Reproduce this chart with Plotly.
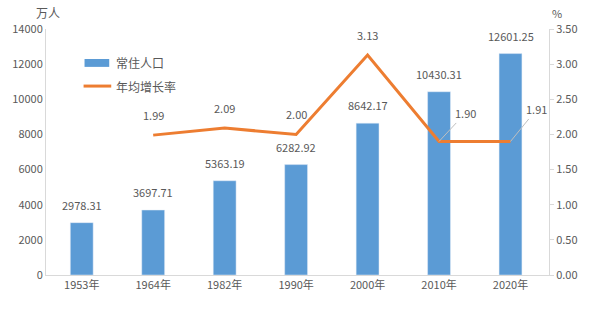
import plotly.graph_objects as go

years = ["1953年", "1964年", "1982年", "1990年", "2000年", "2010年", "2020年"]
population = [2978.31, 3697.71, 5363.19, 6282.92, 8642.17, 10430.31, 12601.25]
growth_years = ["1964年", "1982年", "1990年", "2000年", "2010年", "2020年"]
growth = [1.99, 2.09, 2.00, 3.13, 1.90, 1.91]
growth_plot = [1.99, 2.09, 2.00, 3.13, 1.90, 1.90]

FONT = "Noto Sans CJK SC, Liberation Sans, sans-serif"
GRAY = "#595959"
AX = "#D9D9D9"
BLUE = "#5B9BD5"
ORANGE = "#ED7D31"

fig = go.Figure()
fig.add_trace(go.Bar(x=years, y=population, name="常住人口", marker_color=BLUE,
                     width=0.32, yaxis="y"))
fig.add_trace(go.Scatter(x=growth_years, y=growth_plot, name="年均增长率", mode="lines",
                         line=dict(color=ORANGE, width=3), yaxis="y2"))

ann = []
for x, v in zip(years, population):
    ann.append(dict(x=x, y=v, yref="y", text=f"{v:.2f}", showarrow=False,
                    yanchor="bottom", yshift=8, font=dict(size=11, color=GRAY, family=FONT)))
for x, v, vp in zip(growth_years, growth, growth_plot):
    if x in ("2010年", "2020年"):
        ay = -28 if x == "2010年" else -32
        ann.append(dict(x=x, y=vp, yref="y2", text=f"{v:.2f}", showarrow=True,
                        arrowhead=0, arrowwidth=1, arrowcolor="#BFBFBF",
                        ax=26, ay=ay, xanchor="center",
                        font=dict(size=11, color=GRAY, family=FONT)))
    else:
        ann.append(dict(x=x, y=vp, yref="y2", text=f"{v:.2f}", showarrow=False,
                        yanchor="bottom", yshift=10, font=dict(size=11, color=GRAY, family=FONT)))
ann.append(dict(x=-0.024, y=1.069, xref="paper", yref="paper", text="万人", showarrow=False,
                xanchor="left", yanchor="middle", font=dict(size=12, color=GRAY, family=FONT)))
ann.append(dict(x=1.002, y=1.065, xref="paper", yref="paper", text="%", showarrow=False,
                xanchor="left", yanchor="middle", font=dict(size=11, color=GRAY, family=FONT)))
# manual legend
ann.append(dict(x=0.1356, y=0.862, xref="paper", yref="paper", text="常住人口", showarrow=False,
                xanchor="left", yanchor="middle", font=dict(size=12, color=GRAY, family=FONT)))
ann.append(dict(x=0.1356, y=0.768, xref="paper", yref="paper", text="年均增长率", showarrow=False,
                xanchor="left", yanchor="middle", font=dict(size=12, color=GRAY, family=FONT)))
shapes = [
    dict(type="rect", xref="paper", yref="paper", x0=0.0766, x1=0.1257, y0=0.846, y1=0.878,
         fillcolor=BLUE, line=dict(width=0)),
    dict(type="line", xref="paper", yref="paper", x0=0.0747, x1=0.1297, y0=0.768, y1=0.768,
         line=dict(color=ORANGE, width=3)),
]

fig.update_layout(
    width=590, height=325,
    margin=dict(l=44, r=37, t=29, b=50),
    plot_bgcolor="white", paper_bgcolor="white",
    font=dict(family=FONT, size=11, color=GRAY),
    showlegend=False,
    xaxis=dict(type="category", showline=True, linecolor=AX, linewidth=1, ticks="",
               tickfont=dict(size=11, color=GRAY), showgrid=False),
    yaxis=dict(range=[0, 14000], dtick=2000, tickformat="d", showline=True, linecolor=AX,
               linewidth=1, showgrid=False, zeroline=False, ticks="",
               tickfont=dict(size=11, color=GRAY)),
    yaxis2=dict(range=[0, 3.5], dtick=0.5, tickformat=".2f", overlaying="y", side="right",
                showline=True, linecolor=AX, linewidth=1, showgrid=False, zeroline=False,
                ticks="outside", ticklen=4, tickcolor=AX, tickfont=dict(size=11, color=GRAY)),
    annotations=ann,
    shapes=shapes,
)
fig.write_html("out.html")
